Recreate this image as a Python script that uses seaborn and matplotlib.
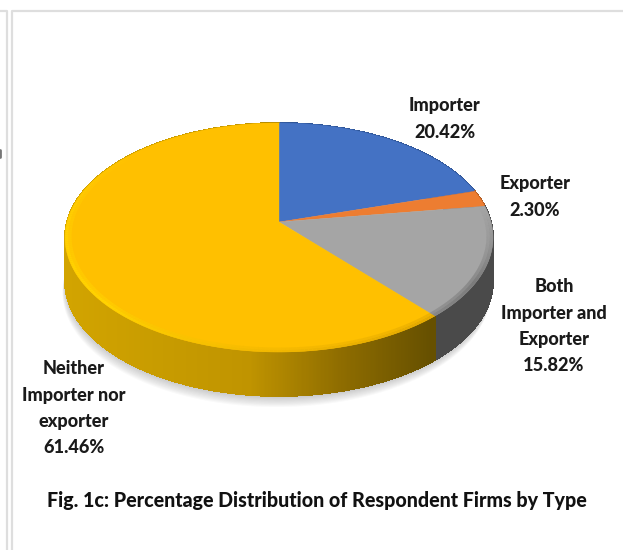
import numpy as np
import matplotlib
matplotlib.use("Agg")
import matplotlib.pyplot as plt
from matplotlib.collections import PolyCollection
from matplotlib.patches import Polygon
import seaborn as sns

categories = ["Importer", "Exporter", "Both\nImporter and\nExporter", "Neither\nImporter nor\nexporter"]
shares = [20.42, 2.30, 15.82, 61.46]
colors = ["#4472C4", "#ED7D31", "#A5A5A5", "#FFC000"]
side_colors = ["#2F5597", "#AE5A21", "#4A4A4A", "#C49800"]
title = "Fig. 1c: Percentage Distribution of Respondent Firms by Type"

sns.set_theme(style="white")
plt.rcParams["font.family"] = ["Lato", "DejaVu Sans"]

fig = plt.figure(figsize=(6.23, 5.5), dpi=100)
ax = fig.add_axes([0, 0, 1, 1])
ax.set_xlim(0, 623)
ax.set_ylim(550, 0)
ax.axis("off")

# perspective projection of a flat disc, pixel-like axes
CX, CY, R, A, C = 279, 222, 212, -82.35, 0.1354
DEPTH = 44


def proj(theta, r=1.0):
    v = r * np.cos(theta)
    s = r * np.sin(theta)
    d = 1 + C * v
    return CX + R * s / d, (A * v + CY) / d


edges = np.deg2rad(np.concatenate([[0], np.cumsum(shares)]) * 3.6)

# soft shadow under the disc
tt = np.linspace(np.deg2rad(70), np.deg2rad(290), 300)
for k in range(1, 11):
    x, y = proj(tt, 1.0)
    ax.add_patch(Polygon(np.c_[x - k * 0.25, y + DEPTH + k * 1.1], fc="#606060", ec="none", alpha=0.035, zorder=1))

# side wall: thin strips, shaded along the rim
gold_ramp = sns.blend_palette(["#D2A400", "#C89C00", "#C09400", "#8F6D00", "#665000"], 256)
for i in range(4):
    t0, t1 = edges[i], edges[i + 1]
    tv = np.linspace(t0, t1, max(int((t1 - t0) * 180), 2))
    x, y = proj(tv)
    quads, cols = [], []
    for j in range(len(tv) - 1):
        quads.append([(x[j], y[j]), (x[j + 1], y[j + 1]), (x[j + 1], y[j + 1] + DEPTH), (x[j], y[j] + DEPTH)])
        if i == 3:
            f = np.clip((430 - x[j]) / (430 - 65), 0, 1)
            cols.append(gold_ramp[int((1 - f) * 255)])
        else:
            cols.append(side_colors[i])
    ax.add_collection(PolyCollection(quads, facecolors=cols, edgecolors=cols, linewidths=0.6, antialiaseds=False, zorder=2))

# top face slices
for i in range(4):
    tv = np.linspace(edges[i], edges[i + 1], 300)
    x, y = proj(tv)
    ax.add_patch(Polygon(np.r_[[[CX, CY]], np.c_[x, y]], fc=colors[i], ec=colors[i], lw=0.3, zorder=3))

# bevel on the upper rim
rim_gold = sns.blend_palette(["#E2A800", "#F2B800", "#FFD400", "#FFCF00", "#FFC000", "#FFC000"], 256)
rim_gray = sns.blend_palette(["#A5A5A5", "#8E8E8E", "#6E6E6E", "#808080"], 64)
for i in (2, 3):
    tv = np.linspace(edges[i], edges[i + 1], 240)
    for r0, r1, a in [(0.985, 1.0, 1.0), (0.97, 0.985, 0.55)]:
        xa, ya = proj(tv, r0)
        xb, yb = proj(tv, r1)
        quads, cols = [], []
        for j in range(len(tv) - 1):
            quads.append([(xa[j], ya[j]), (xa[j + 1], ya[j + 1]), (xb[j + 1], yb[j + 1]), (xb[j], yb[j])])
            f = j / (len(tv) - 2)
            ramp = rim_gold if i == 3 else rim_gray
            cols.append(ramp[int(f * (len(ramp) - 1))])
        ax.add_collection(PolyCollection(quads, facecolors=cols, edgecolors="none", alpha=a, zorder=4))

# labels
label_pos = [(445, 106), (535, 184), (554, 287), (74, 369)]
for name, val, (lx, ly) in zip(categories, shares, label_pos):
    for n, line in enumerate(name.split("\n") + [f"{val:.2f}%"]):
        ax.text(lx, ly + n * 26.3, line, ha="center", va="center", fontsize=13.1, fontweight="black", color="#1a1a1a")

ax.text(316.5, 500, title, ha="center", va="center", fontsize=14.1, fontweight="black", color="#111111")

# page frame lines
ax.plot([11.5, 11.5, 623], [550, 10.5, 10.5], color="#DEDEDE", lw=1.6, zorder=0)
ax.plot([0, 7, 7], [10.5, 10.5, 550], color="#DEDEDE", lw=1.6, zorder=0)
ax.plot([0, 0], [150, 157], color="#777777", lw=2, zorder=0)

fig.savefig("out.png", dpi=100)
